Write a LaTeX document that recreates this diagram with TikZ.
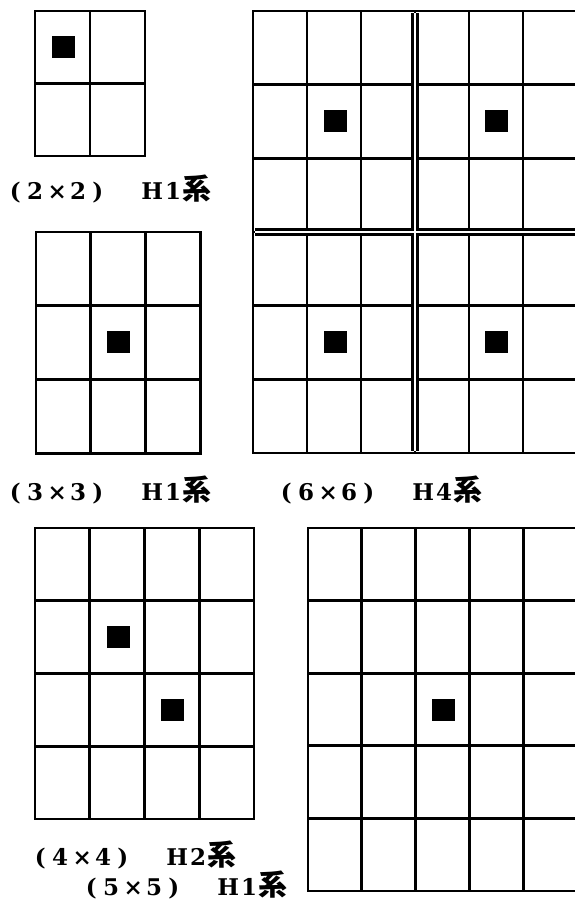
\documentclass[tikz,border=0pt]{standalone}
\usepackage{fontspec}
\setmainfont{DejaVu Serif}
\newfontfamily\cjk{Noto Sans CJK JP}
\usepackage{tikz}
\usetikzlibrary{positioning}

\tikzset{
  gridline/.style={line width=2.8pt, line cap=rect},
  seam/.style={double, line width=3pt, double distance=1.5pt},
  blackcell/.style={fill=black, inner sep=0pt, minimum width=23pt, minimum height=22pt},
  syslabel/.style={anchor=base west, inner sep=0pt, font=\fontsize{23}{27}\selectfont\bfseries}
}

% x0, y0, cell width, cell height, columns, rows
\newcommand{\cellgrid}[6]{%
  \foreach \k in {0,...,#5}
    \draw[gridline] ({#1+\k*#3},#2) -- ({#1+\k*#3},{#2+#6*#4});
  \foreach \k in {0,...,#6}
    \draw[gridline] (#1,{#2+\k*#4}) -- ({#1+#5*#3},{#2+\k*#4});
}
\newcommand{\ch}[2]{\makebox[#1pt][c]{#2}}
\newcommand{\sysname}[2]{\ch{10}{(}\ch{30}{#1}\ch{14}{×}\ch{28}{#1}\ch{11}{)}\hspace{40pt}\ch{18}{H}\hspace{4pt}\ch{16}{#2}\ch{32}{\cjk\fontsize{29}{32}\selectfont 系}}

\begin{document}
\begin{tikzpicture}[x=1pt, y=-1pt]
  \useasboundingbox (0,0) rectangle (575,904);
  \clip (0,0) rectangle (575,904);

  % 2x2
  \cellgrid{35}{11}{55}{72.5}{2}{2}
  \node[blackcell] (sq2) at (63.5,47) {};
  \node[syslabel] (lbl2) at (10,200) {\sysname{2}{1}};

  % 3x3
  \cellgrid{36}{232}{54.7}{73.7}{3}{3}
  \node[blackcell] (sq3) at (118.5,342) {};
  \node[syslabel] (lbl3) at (10,500) {\sysname{3}{1}};

  % 6x6
  \cellgrid{253}{11}{54}{73.67}{6}{6}
  \draw[seam] (415,13) -- (415,451) (255,232) -- (577,232);
  \node[blackcell] (sq6a) at (335.5,121) {};
  \node[blackcell] (sq6b) at (496.5,121) {};
  \node[blackcell] (sq6c) at (335.5,341.5) {};
  \node[blackcell] (sq6d) at (496.5,341.5) {};
  \node[syslabel] (lbl6) at (281,500) {\sysname{6}{4}};

  % 4x4
  \cellgrid{35}{528}{54.75}{72.75}{4}{4}
  \node[blackcell] (sq4a) at (118,636.5) {};
  \node[blackcell] (sq4b) at (172.5,709.5) {};
  \node[syslabel] (lbl4) at (35,865) {\sysname{4}{2}};

  % 5x5
  \cellgrid{308}{528}{53.8}{72.6}{5}{5}
  \node[blackcell] (sq5) at (443,709.5) {};
  \node[syslabel] (lbl5) at (86,895) {\sysname{5}{1}};
\end{tikzpicture}
\end{document}
